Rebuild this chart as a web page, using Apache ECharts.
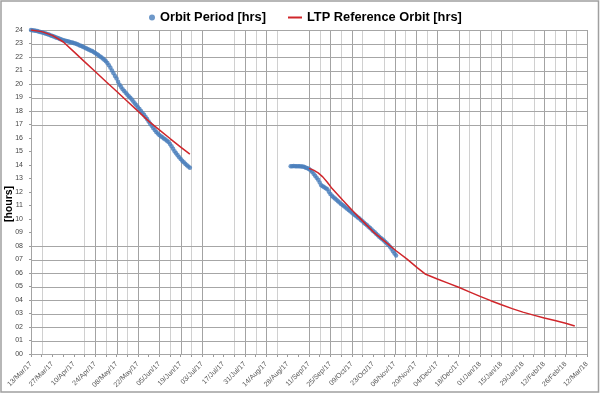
<!DOCTYPE html>
<html><head><meta charset="utf-8">
<script src="https://cdn.jsdelivr.net/npm/echarts@6/dist/echarts.min.js"></script>
<style>html,body{margin:0;padding:0;background:#fff}#c{width:600px;height:395px}</style>
</head><body><div id="c"></div>
<script>
// x values are days since 13/Mar/17
const xTickLabels = ['13/Mar/17','27/Mar/17','10/Apr/17','24/Apr/17','08/May/17','22/May/17','05/Jun/17','19/Jun/17','03/Jul/17','17/Jul/17','31/Jul/17','14/Aug/17','28/Aug/17','11/Sep/17','25/Sep/17','09/Oct/17','23/Oct/17','06/Nov/17','20/Nov/17','04/Dec/17','18/Dec/17','01/Jan/18','15/Jan/18','29/Jan/18','12/Feb/18','26/Feb/18','12/Mar/18'];
const yTickLabels = ['00','01','02','03','04','05','06','07','08','09','10','11','12','13','14','15','16','17','18','19','20','21','22','23','24'];

const orbitStart1 = 0;
const orbitHrs1 = [24.0,23.99,23.97,23.95,23.92,23.89,23.86,23.83,23.8,23.76,23.72,23.68,23.64,23.6,23.56,23.52,23.47,23.42,23.38,23.33,
  23.29,23.25,23.22,23.19,23.16,23.13,23.1,23.07,23.04,23.0,22.96,22.91,22.86,22.81,22.76,22.7,22.64,22.59,22.54,22.49,
  22.44,22.37,22.3,22.22,22.14,22.06,21.98,21.89,21.8,21.68,21.55,21.38,21.2,21.0,20.8,20.6,20.4,20.17,19.95,19.78,
  19.62,19.48,19.35,19.22,19.1,18.98,18.85,18.7,18.56,18.42,18.28,18.14,18.0,17.86,17.72,17.56,17.4,17.22,17.05,16.9,
  16.75,16.6,16.45,16.33,16.22,16.13,16.05,15.96,15.88,15.8,15.7,15.55,15.38,15.2,15.02,14.87,14.72,14.58,14.45,14.32,
  14.2,14.09,13.98,13.89,13.8];
const orbitStart2 = 170;
const orbitHrs2 = [13.9,13.91,13.92,13.91,13.9,13.9,13.9,13.89,13.88,13.85,13.8,13.76,13.7,13.61,13.5,13.36,13.2,13.05,12.9,12.7,
  12.5,12.42,12.35,12.28,12.2,12.02,11.85,11.73,11.62,11.52,11.42,11.32,11.22,11.12,11.03,10.94,10.85,10.76,10.67,10.57,
  10.48,10.39,10.3,10.21,10.12,10.03,9.93,9.83,9.73,9.63,9.53,9.43,9.33,9.23,9.12,9.01,8.9,8.79,8.68,8.59,
  8.5,8.4,8.3,8.19,8.08,7.94,7.8,7.62,7.45,7.3];

const ltpDays1 = [0,7,14,21,28,35,42,49,56,63,70,77,84,91,98,104];
const ltpHrs1  = [24.0,23.88,23.6,23.13,22.4,21.66,20.93,20.19,19.46,18.72,17.99,17.25,16.6,15.96,15.33,14.8];
const ltpDays2 = [182,185,188,191,194,197,204,211,218,225,232,239,246,253,258,266,273,280,287,294,301,308,315,322,329,336,343,350,356];
const ltpHrs2  = [13.75,13.62,13.42,13.12,12.72,12.27,11.4,10.55,9.75,8.95,8.3,7.65,7.05,6.38,5.93,5.56,5.25,4.94,4.6,4.27,3.95,3.65,3.36,3.1,2.88,2.67,2.48,2.28,2.08];

// gridlines as drawn in the picture (weekly steps; some missing; hours 9-16 without lines)
const xGridSteps = [0,1,5,6,7,8,9,10,12,13,14,15,16,19,20,21,22,23,26,27,28,29,30,31,33,34,35,36,37,38,40,41,42,43,44,45,47,48,49,50,51,52];
const yGridHours = [0,1,2,3,4,5,6,7,8,17,18,19,20,21,22,23,24];

const pairs = (xs, ys) => xs.map((x, i) => [x, ys[i]]);
const daily = (start, ys) => ys.map((y, i) => [start + i, y]);

const GRID_COLORS = ['#a3a3a3', '#d0d0d0', '#a6a6a6'];
// [value, orientation (0 vertical, 1 horizontal), colour index]
const gridData = xGridSteps.map(s => [s * 7, 0, s % 2 === 0 ? 0 : 1]).concat(yGridHours.map(h => [h, 1, 2]));

const X_MIN = 0, X_MAX = 364, Y_MIN = 0, Y_MAX = 24;
const legendText = {fontFamily: 'Liberation Sans', fontWeight: 'bold', fontSize: 12.8, color: '#000'};
const chart = echarts.init(document.getElementById('c'), null, {renderer: 'canvas'});
chart.setOption({
  animation: false,
  backgroundColor: '#fff',
  grid: {left: 31, right: 13, top: 30, bottom: 41},
  legend: [
    {data: [{name: 'Orbit Period [hrs]', icon: 'circle'}], left: 144, top: 6, itemWidth: 6, itemHeight: 6, textStyle: legendText},
    {data: [{name: 'LTP Reference Orbit [hrs]', icon: 'rect'}], left: 283, top: 6, itemWidth: 14, itemHeight: 2, textStyle: legendText}
  ],
  xAxis: {
    type: 'value', min: X_MIN, max: X_MAX, interval: 7,
    axisLine: {show: true, lineStyle: {color: '#9a9a9a', width: 1}},
    axisTick: {show: true, length: 3, lineStyle: {color: '#9a9a9a'}},
    axisLabel: {rotate: 45, fontSize: 7, color: '#555', margin: 9, fontFamily: 'Liberation Sans',
      formatter: v => (v % 14 === 0 ? xTickLabels[v / 14] : '')},
    splitLine: {show: false}
  },
  yAxis: {
    type: 'value', min: Y_MIN, max: Y_MAX, interval: 1,
    axisLine: {show: true, lineStyle: {color: '#9a9a9a', width: 1}},
    axisTick: {show: true, length: 2, lineStyle: {color: '#9a9a9a'}},
    axisLabel: {fontSize: 7, color: '#444', margin: 8, fontFamily: 'Liberation Sans',
      formatter: v => yTickLabels[v]},
    splitLine: {show: false}
  },
  graphic: [
    {type: 'rect', shape: {x: 1, y: 1, width: 597.5, height: 391}, style: {fill: 'none', stroke: '#a0a0a0', lineWidth: 1.5}, silent: true},
    {type: 'text', x: 9, y: 204, rotation: Math.PI / 2,
     style: {text: '[hours]', font: 'bold 10.5px "Liberation Sans"', fill: '#000', align: 'center', verticalAlign: 'middle'}}
  ],
  series: [
    {name: 'gridlines', type: 'custom', z: 1, silent: true, clip: false,
     encode: {x: 0, y: -1},
     renderItem: (params, api) => {
       const v = api.value(0), horiz = api.value(1) === 1;
       const a = horiz ? api.coord([X_MIN, v]) : api.coord([v, Y_MIN]);
       const b = horiz ? api.coord([X_MAX, v]) : api.coord([v, Y_MAX]);
       const r = n => Math.round(n) + 0.5;
       return {type: 'line',
         shape: horiz ? {x1: a[0], y1: r(a[1]), x2: b[0], y2: r(b[1])} : {x1: r(a[0]), y1: a[1], x2: r(b[0]), y2: b[1]},
         style: {stroke: GRID_COLORS[api.value(2)], lineWidth: 1}};
     },
     data: gridData},
    {name: 'Orbit Period [hrs]', type: 'scatter', symbol: 'circle', symbolSize: 4.5, z: 3,
     itemStyle: {color: '#4a7ebb'}, data: daily(orbitStart1, orbitHrs1).concat(daily(orbitStart2, orbitHrs2))},
    {name: 'LTP Reference Orbit [hrs]', type: 'line', symbol: 'none', z: 4,
     lineStyle: {color: '#d0262b', width: 1.5}, itemStyle: {color: '#d0262b'}, data: pairs(ltpDays1, ltpHrs1)},
    {name: 'LTP Reference Orbit [hrs]', type: 'line', symbol: 'none', z: 4,
     lineStyle: {color: '#d0262b', width: 1.5}, itemStyle: {color: '#d0262b'}, data: pairs(ltpDays2, ltpHrs2)}
  ]
});
</script></body></html>
